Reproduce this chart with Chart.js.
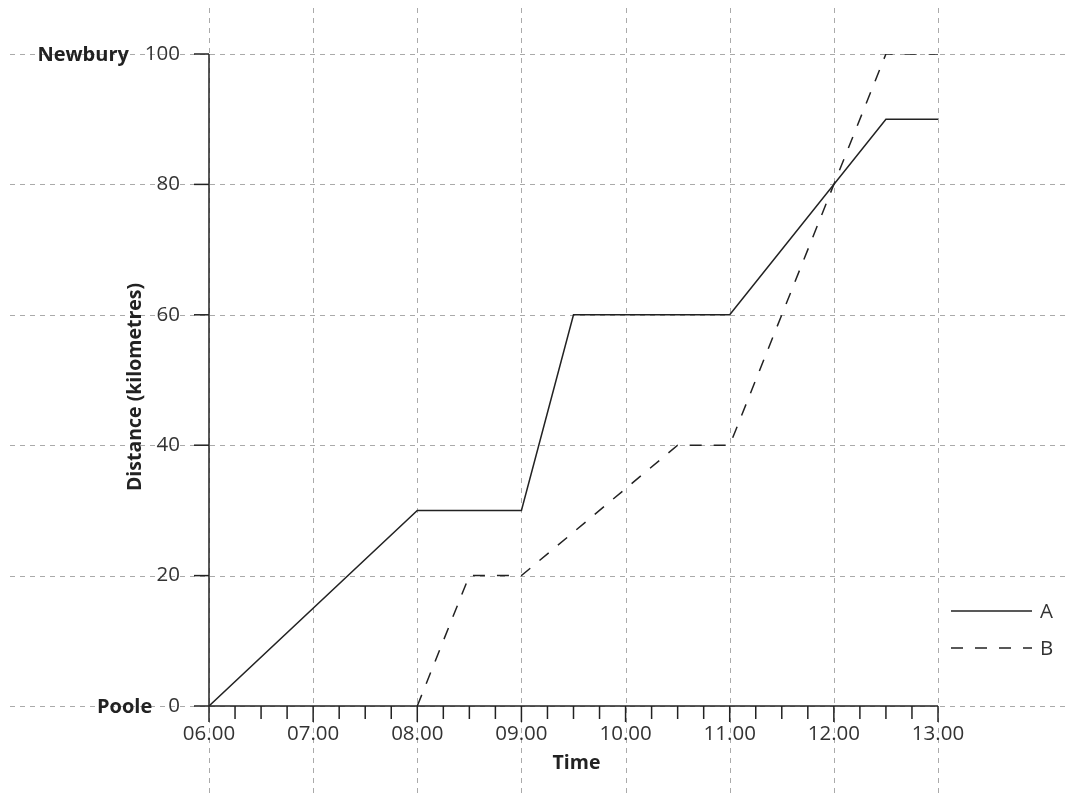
<!DOCTYPE html>
<html>
<head>
<meta charset="utf-8">
<script src="https://cdn.jsdelivr.net/npm/chart.js@4.4.1/dist/chart.umd.min.js"></script>
<style>
html,body{margin:0;padding:0;background:#fff;}
#wrap{width:1066px;height:793px;}
</style>
</head>
<body>
<div id="wrap"><canvas id="c" width="1066" height="793"></canvas></div>
<script>
// ---- data ----
const timesA = [6, 8, 9, 9.5, 11, 12.5, 13];
const distA  = [0, 30, 30, 60, 60, 90, 90];
const timesB = [8, 8.5, 9, 10.5, 11, 12.5, 13];
const distB  = [0, 20, 20, 40, 40, 100, 100];
const seriesNames = ['A', 'B'];
const xTicks = [6, 7, 8, 9, 10, 11, 12, 13];
const yTicks = [0, 20, 40, 60, 80, 100];
const placeNames = {0: 'Poole', 100: 'Newbury'};
const xTitle = 'Time';
const yTitle = 'Distance (kilometres)';

const FONT = '"Open Sans", "DejaVu Sans", sans-serif';
const INK = '#222';
const GRID = '#aaaaaa';

const toPts = (xs, ys) => xs.map((x, i) => ({x: x, y: ys[i]}));
const fmtTime = v => (v < 10 ? '0' : '') + v + '.00';

const decor = {
  id: 'decor',
  beforeDraw(chart) {
    const ctx = chart.ctx, xs = chart.scales.x, ys = chart.scales.y;
    const W = chart.width, H = chart.height;
    ctx.save();
    ctx.strokeStyle = GRID; ctx.lineWidth = 1; ctx.setLineDash([5, 5]);
    yTicks.forEach(v => {
      const py = Math.round(ys.getPixelForValue(v)) + 0.5;
      ctx.beginPath(); ctx.moveTo(10, py); ctx.lineTo(W, py); ctx.stroke();
    });
    xTicks.forEach(v => {
      const px = Math.round(xs.getPixelForValue(v)) + 0.5;
      ctx.beginPath(); ctx.moveTo(px, 8); ctx.lineTo(px, H); ctx.stroke();
    });
    ctx.restore();
  },
  afterDraw(chart) {
    const ctx = chart.ctx, xs = chart.scales.x, ys = chart.scales.y;
    const area = chart.chartArea;
    ctx.save();
    ctx.strokeStyle = INK; ctx.lineWidth = 1.5; ctx.setLineDash([]);
    // y axis line + ticks
    const x0 = xs.getPixelForValue(xTicks[0]);
    const y0 = ys.getPixelForValue(0);
    ctx.beginPath();
    ctx.moveTo(x0, ys.getPixelForValue(yTicks[yTicks.length - 1]));
    ctx.lineTo(x0, y0);
    ctx.stroke();
    yTicks.forEach(v => {
      const py = ys.getPixelForValue(v);
      ctx.beginPath(); ctx.moveTo(x0 - 15, py); ctx.lineTo(x0, py); ctx.stroke();
    });
    // x axis line + ticks (major hours, minor quarter hours)
    ctx.beginPath();
    ctx.moveTo(x0, y0); ctx.lineTo(xs.getPixelForValue(xTicks[xTicks.length - 1]), y0);
    ctx.stroke();
    for (let q = xTicks[0] * 4; q <= xTicks[xTicks.length - 1] * 4; q++) {
      const px = xs.getPixelForValue(q / 4);
      const len = (q % 4 === 0) ? 16 : 13;
      ctx.beginPath(); ctx.moveTo(px, y0); ctx.lineTo(px, y0 + len); ctx.stroke();
    }
    // place names
    ctx.fillStyle = INK; ctx.textAlign = 'right'; ctx.textBaseline = 'middle';
    const numFont = '20.5px ' + FONT;
    Object.keys(placeNames).forEach(k => {
      ctx.font = numFont;
      const w = ctx.measureText(String(k)).width;
      ctx.font = 'bold 20px ' + FONT;
      const right = ys.right - ys.options.ticks.padding - w - 16;
      ctx.fillText(placeNames[k], right, ys.getPixelForValue(Number(k)) + 1);
    });
    // axis titles
    ctx.font = 'bold 19.5px ' + FONT;
    ctx.textAlign = 'center';
    ctx.fillText(xTitle, (area.left + area.right) / 2 + 3, 763);
    ctx.save();
    ctx.translate(135, 387);
    ctx.rotate(-Math.PI / 2);
    ctx.fillText(yTitle, 0, 0);
    ctx.restore();
    // legend
    chart.data.datasets.forEach((ds, i) => {
      const ly = 611 + i * 37;
      ctx.strokeStyle = ds.borderColor; ctx.lineWidth = ds.borderWidth;
      ctx.setLineDash(ds.borderDash || []);
      ctx.beginPath(); ctx.moveTo(951, ly); ctx.lineTo(1032, ly); ctx.stroke();
      ctx.setLineDash([]);
      ctx.font = '20.5px ' + FONT; ctx.fillStyle = '#333';
      ctx.textAlign = 'left';
      ctx.fillText(ds.label, 1040, ly + 1);
    });
    ctx.restore();
  }
};

new Chart(document.getElementById('c'), {
  type: 'line',
  data: {
    datasets: [
      {label: seriesNames[0], data: toPts(timesA, distA), borderColor: INK, borderWidth: 1.5,
       pointRadius: 0, fill: false, tension: 0},
      {label: seriesNames[1], data: toPts(timesB, distB), borderColor: INK, borderWidth: 1.5,
       borderDash: [12, 12], pointRadius: 0, fill: false, tension: 0}
    ]
  },
  options: {
    responsive: false,
    animation: false,
    events: [],
    layout: {padding: {top: 54, right: 128, left: 0, bottom: 0}},
    plugins: {legend: {display: false}, tooltip: {enabled: false}},
    scales: {
      x: {
        type: 'linear', min: xTicks[0], max: xTicks[xTicks.length - 1],
        afterFit(s) { s.height = 87; },
        afterBuildTicks(s) { s.ticks = xTicks.map(v => ({value: v})); },
        grid: {display: false, drawTicks: false},
        border: {display: false},
        ticks: {padding: 16, color: '#333', font: {family: FONT, size: 20.5},
                maxRotation: 0, autoSkip: false, callback: v => fmtTime(v)}
      },
      y: {
        type: 'linear', min: yTicks[0], max: yTicks[yTicks.length - 1],
        afterFit(s) { s.width = 209; },
        afterBuildTicks(s) { s.ticks = yTicks.map(v => ({value: v})); },
        grid: {display: false, drawTicks: false},
        border: {display: false},
        ticks: {padding: 29, color: '#333', font: {family: FONT, size: 20.5}, autoSkip: false}
      }
    }
  },
  plugins: [decor]
});
</script>
</body>
</html>
